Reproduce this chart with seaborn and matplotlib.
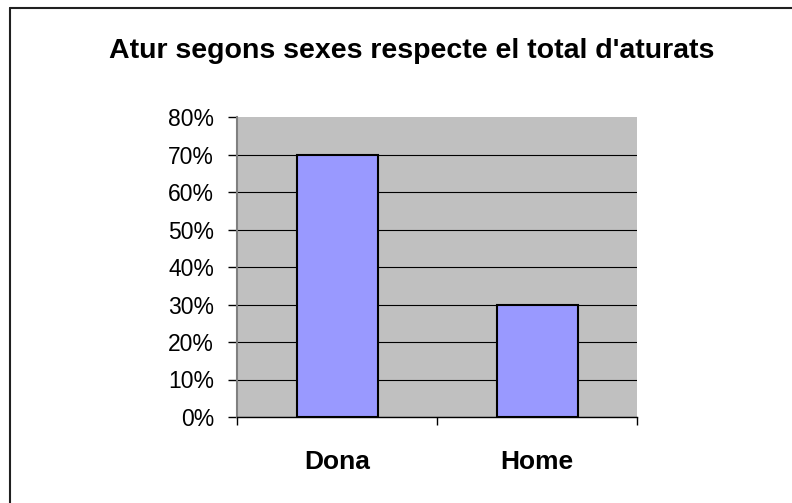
import matplotlib
matplotlib.use("Agg")
import matplotlib.pyplot as plt
import seaborn as sns
import pandas as pd
from matplotlib.lines import Line2D
from matplotlib.ticker import PercentFormatter, FixedLocator

# Data
sexes = ["Dona", "Home"]
share = [0.70, 0.30]
y_ticks = [0.0, 0.1, 0.2, 0.3, 0.4, 0.5, 0.6, 0.7, 0.8]
title = "Atur segons sexes respecte el total d'aturats"

df = pd.DataFrame({"Sexe": sexes, "Percentatge": share})

sns.set_style("white")
plt.rcParams["font.family"] = ["Liberation Sans", "DejaVu Sans"]
plt.rcParams["text.color"] = "black"
plt.rcParams["xtick.color"] = "black"
plt.rcParams["ytick.color"] = "black"
plt.rcParams["xtick.labelcolor"] = "black"
plt.rcParams["ytick.labelcolor"] = "black"

W, H = 792, 503
fig = plt.figure(figsize=(W / 100, H / 100), dpi=100)
ax = fig.add_axes([237 / W, 1 - 417 / H, 400 / W, 300 / H])
ax.set_facecolor("#C0C0C0")

sns.barplot(data=df, x="Sexe", y="Percentatge", color="#9999FF", width=0.405,
            edgecolor="black", linewidth=1.5, saturation=1, ax=ax, zorder=3)

ax.set_xlim(-0.5, 1.5)
ax.set_ylim(0, 0.8)
ax.set_yticks(y_ticks)
ax.yaxis.set_major_formatter(PercentFormatter(1, decimals=0))
ax.set_xlabel("")
ax.set_ylabel("")

# gridlines
ax.yaxis.grid(True, color="black", linewidth=0.8, zorder=1)
ax.set_axisbelow(True)
ax.yaxis.get_gridlines()[-1].set_visible(False)

# spines
for s in ["top", "right"]:
    ax.spines[s].set_visible(False)
ax.spines["left"].set_color("#808080")
ax.spines["left"].set_linewidth(1.5)
ax.spines["bottom"].set_color("black")
ax.spines["bottom"].set_linewidth(1.0)

# ticks
ax.tick_params(axis="y", direction="out", length=6.5, width=1, color="black",
               labelcolor="black", pad=10, labelsize=16.5, left=True)
ax.tick_params(axis="x", which="major", length=0, pad=24, labelsize=19,
               labelcolor="black")
ax.xaxis.set_minor_locator(FixedLocator([-0.5, 0.5, 1.5]))
ax.tick_params(axis="x", which="minor", direction="out", length=6, width=1,
               color="black", bottom=True)
for lab in ax.get_xticklabels():
    lab.set_fontweight("bold")

fig.text(411.5 / W, 1 - 58 / H, title, ha="center", va="baseline",
         fontsize=20.5, fontweight="bold", color="black")

# chart area frame (left and top edges only visible)
fig.add_artist(Line2D([10 / W, 10 / W], [0, 1 - 8 / H], color="#202020",
                      linewidth=1.5, transform=fig.transFigure))
fig.add_artist(Line2D([10 / W, 1], [1 - 8 / H, 1 - 8 / H], color="#202020",
                      linewidth=1.5, transform=fig.transFigure))

fig.savefig("out.png", dpi=100)
